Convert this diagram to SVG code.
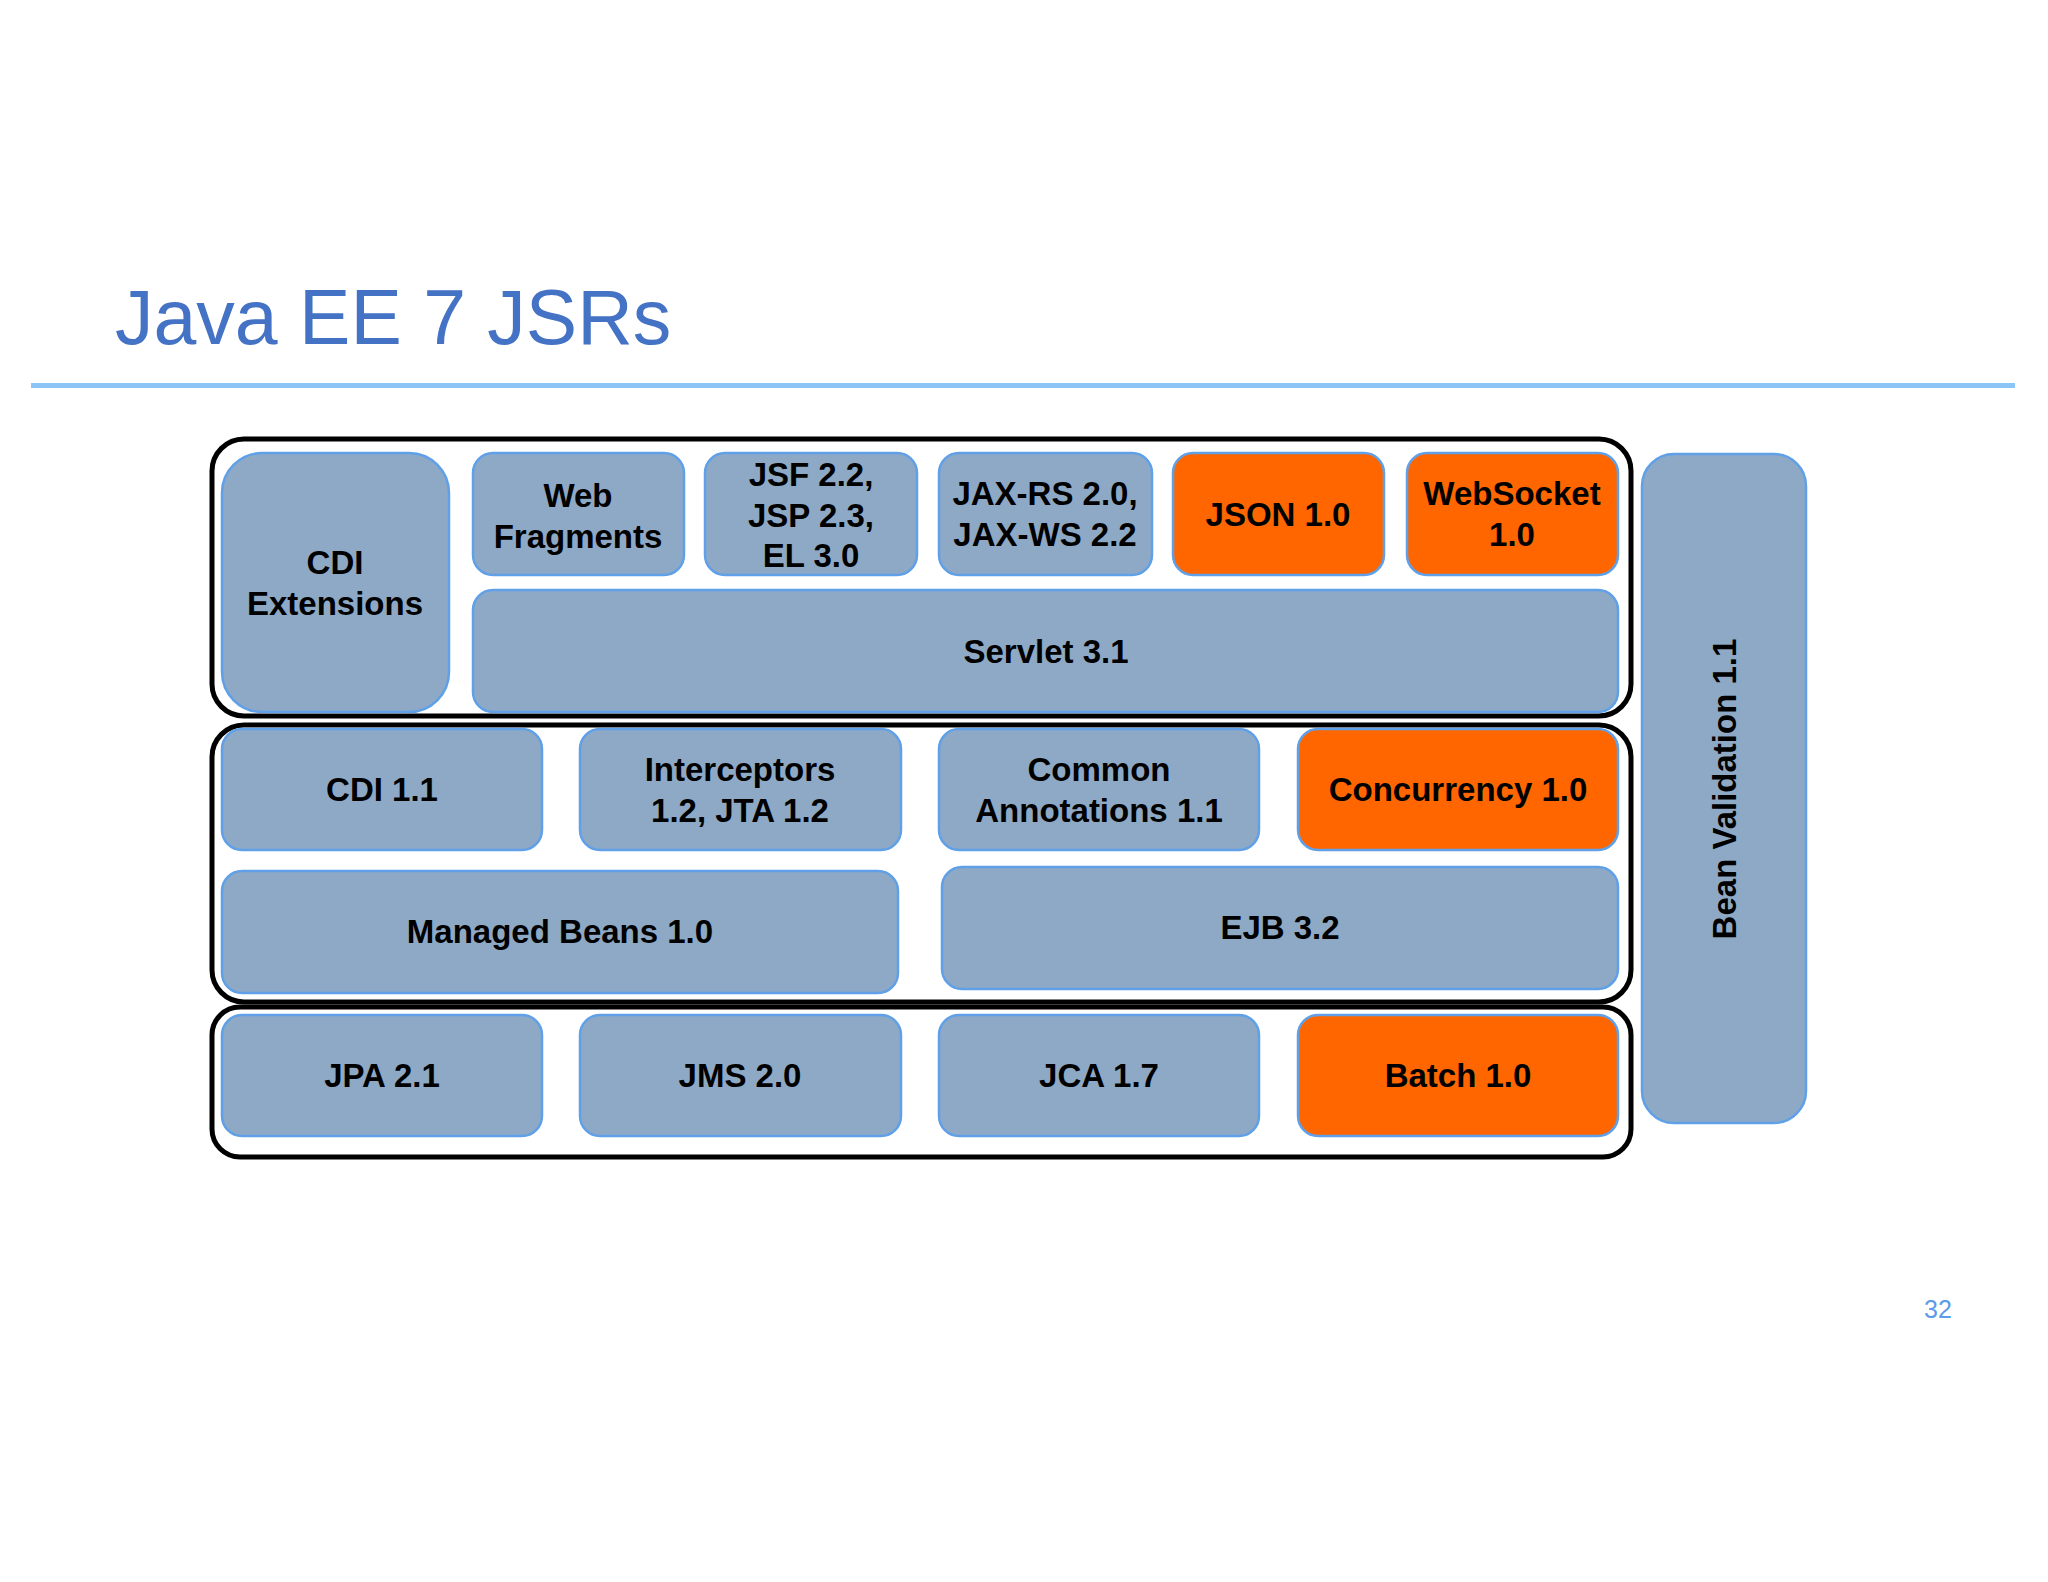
<svg xmlns="http://www.w3.org/2000/svg" width="2048" height="1582" viewBox="0 0 2048 1582">
<style>
.cont{fill:#ffffff;stroke:#000000;stroke-width:5}
.box{fill:#8EA9C5;stroke:#5FA0E8;stroke-width:2.5}
.new{fill:#FF6600;stroke:#5FA0E8;stroke-width:2.5}
.lbl{font-family:"Liberation Sans",Arial,sans-serif;font-weight:bold;font-size:33px;fill:#000000;text-anchor:middle}
.title{font-family:"Liberation Sans",Arial,sans-serif;font-size:77px;fill:#4472C4}
.pg{font-family:"Liberation Sans",Arial,sans-serif;font-size:25px;fill:#5B9BE8;text-anchor:middle}
</style>
<rect width="2048" height="1582" fill="#ffffff"/>
<text class="title" x="115" y="344">Java EE 7 JSRs</text>
<rect x="31" y="383" width="1984" height="5" fill="#8BC5F5"/>

<g id="container-web"><rect class="cont" x="212" y="439" width="1419" height="277" rx="32"/></g>
<g id="container-business"><rect class="cont" x="212" y="725" width="1419" height="277" rx="32"/></g>
<g id="container-enterprise"><rect class="cont" x="212" y="1007" width="1419" height="150" rx="28"/></g>

<g id="cdi-extensions"><rect class="box" x="222" y="453" width="227" height="259" rx="40"/>
<text class="lbl" x="335" y="574">CDI</text><text class="lbl" x="335" y="615">Extensions</text></g>
<g id="web-fragments"><rect class="box" x="473" y="453" width="211" height="122" rx="20"/>
<text class="lbl" x="578" y="507">Web</text><text class="lbl" x="578" y="548">Fragments</text></g>
<g id="jsf"><rect class="box" x="705" y="453" width="212" height="122" rx="20"/>
<text class="lbl" x="811" y="486">JSF 2.2,</text><text class="lbl" x="811" y="527">JSP 2.3,</text><text class="lbl" x="811" y="567">EL 3.0</text></g>
<g id="jax-rs"><rect class="box" x="939" y="453" width="213" height="122" rx="20"/>
<text class="lbl" x="1045" y="505">JAX-RS 2.0,</text><text class="lbl" x="1045" y="546">JAX-WS 2.2</text></g>
<g id="json"><rect class="new" x="1173" y="453" width="211" height="122" rx="20"/>
<text class="lbl" x="1278" y="526">JSON 1.0</text></g>
<g id="websocket"><rect class="new" x="1407" y="453" width="211" height="122" rx="20"/>
<text class="lbl" x="1512" y="505">WebSocket</text><text class="lbl" x="1512" y="546">1.0</text></g>
<g id="servlet"><rect class="box" x="473" y="590" width="1145" height="122" rx="20"/>
<text class="lbl" x="1046" y="663">Servlet 3.1</text></g>

<g id="cdi"><rect class="box" x="222" y="729" width="320" height="121" rx="20"/>
<text class="lbl" x="382" y="801">CDI 1.1</text></g>
<g id="interceptors"><rect class="box" x="580" y="729" width="321" height="121" rx="20"/>
<text class="lbl" x="740" y="781">Interceptors</text><text class="lbl" x="740" y="822">1.2, JTA 1.2</text></g>
<g id="common-annotations"><rect class="box" x="939" y="729" width="320" height="121" rx="20"/>
<text class="lbl" x="1099" y="781">Common</text><text class="lbl" x="1099" y="822">Annotations 1.1</text></g>
<g id="concurrency"><rect class="new" x="1298" y="729" width="320" height="121" rx="20"/>
<text class="lbl" x="1458" y="801">Concurrency 1.0</text></g>
<g id="managed-beans"><rect class="box" x="222" y="871" width="676" height="122" rx="20"/>
<text class="lbl" x="560" y="943">Managed Beans 1.0</text></g>
<g id="ejb"><rect class="box" x="942" y="867" width="676" height="122" rx="20"/>
<text class="lbl" x="1280" y="939">EJB 3.2</text></g>

<g id="jpa"><rect class="box" x="222" y="1015" width="320" height="121" rx="20"/>
<text class="lbl" x="382" y="1087">JPA 2.1</text></g>
<g id="jms"><rect class="box" x="580" y="1015" width="321" height="121" rx="20"/>
<text class="lbl" x="740" y="1087">JMS 2.0</text></g>
<g id="jca"><rect class="box" x="939" y="1015" width="320" height="121" rx="20"/>
<text class="lbl" x="1099" y="1087">JCA 1.7</text></g>
<g id="batch"><rect class="new" x="1298" y="1015" width="320" height="121" rx="20"/>
<text class="lbl" x="1458" y="1087">Batch 1.0</text></g>

<g id="bean-validation"><rect class="box" x="1642" y="454" width="164" height="669" rx="32"/>
<text class="lbl" transform="translate(1736,789) rotate(-90)" x="0" y="0">Bean Validation 1.1</text></g>

<g id="connectors"></g>
<text class="pg" x="1938" y="1318">32</text>
</svg>
